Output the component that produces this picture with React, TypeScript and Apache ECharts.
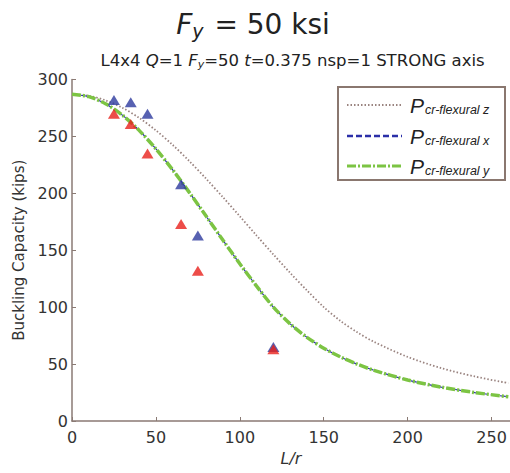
import React, { useEffect, useRef } from "react";
import * as echarts from "echarts";

// Slenderness ratios at which the curves are sampled
const slenderness = [0, 10, 20, 30, 40, 50, 60, 70, 80, 90, 100, 110, 120, 130, 140, 150, 160, 170, 180, 200, 220, 240, 260];
// Flexural buckling capacity about z (kips)
const flexuralZ = [287, 285.7, 281.7, 275.2, 266.3, 255.3, 242.5, 228.2, 212.7, 196.5, 179.8, 162.9, 146.3, 130.1, 114.7, 100.1, 87.9, 77.9, 69.5, 56.3, 46.5, 39.1, 33.3];
// Flexural buckling capacity about x and y (kips) – the two coincide
const flexuralX = [287, 284.9, 278.7, 268.7, 255.3, 239.0, 220.6, 200.6, 179.8, 158.7, 138.1, 118.5, 100.1, 85.3, 73.5, 64.0, 56.3, 49.9, 44.5, 36.0, 29.8, 25.0, 21.3];
const flexuralY = [287, 284.9, 278.7, 268.7, 255.3, 239.0, 220.6, 200.6, 179.8, 158.7, 138.1, 118.5, 100.1, 85.3, 73.5, 64.0, 56.3, 49.9, 44.5, 36.0, 29.8, 25.0, 21.3];

// Test results
const testLr = [25, 35, 45, 65, 75, 120];
const testBlue = [282, 280, 270, 208, 163, 65];
const testRed = [270, 261, 235, 173, 132, 63];

const legendLabels = ["cr-flexural z", "cr-flexural x", "cr-flexural y"];

const FONT = "'DejaVu Sans', Verdana, sans-serif";
const LEGEND_FONT = "'Liberation Sans', Arial, Helvetica, sans-serif";

const pairs = (xs: number[], ys: number[]) => xs.map((x, i) => [x, ys[i]]);

export default function App() {
  const ref = useRef<HTMLDivElement>(null);

  useEffect(() => {
    if (!ref.current) return;
    const chart = echarts.init(ref.current, null, { renderer: "svg" });

    const axisColor = "#8a7a74";
    const legendTop = 87;
    const legendRows = [105, 136, 166];
    const legendStyles = [
      { stroke: "#9a8480", lineWidth: 1.8, lineDash: [1.5, 2] },
      { stroke: "#2b2fa8", lineWidth: 2.5, lineDash: [6, 3] },
      { stroke: "#7cc443", lineWidth: 3, lineDash: [9, 2, 2, 2] },
    ];

    chart.setOption({
      animation: false,
      backgroundColor: "#ffffff",
      textStyle: { fontFamily: FONT },
      grid: { left: 72, right: 0, top: 79.5, bottom: 52, containLabel: false },
      xAxis: {
        type: "value",
        min: 0,
        max: 261,
        interval: 50,
        name: "L/r",
        nameLocation: "middle",
        nameGap: 29,
        nameTextStyle: { fontFamily: FONT, fontSize: 16, fontStyle: "italic", color: "#333" },
        axisLine: { lineStyle: { color: axisColor, width: 1.5 } },
        axisTick: { inside: true, length: 4, lineStyle: { color: axisColor } },
        axisLabel: {
          color: "#333",
          fontSize: 16,
          fontFamily: FONT,
          margin: 8,
          showMaxLabel: false,
          formatter: (v: number) => (v % 50 === 0 ? String(v) : ""),
        },
        splitLine: { show: false },
      },
      yAxis: {
        type: "value",
        min: 0,
        max: 300,
        interval: 50,
        name: "Buckling Capacity (kips)",
        nameLocation: "middle",
        nameRotate: 90,
        nameGap: 46,
        nameTextStyle: { fontFamily: FONT, fontSize: 15, color: "#333" },
        axisLine: { show: true, lineStyle: { color: axisColor, width: 1.5 } },
        axisTick: { show: true, inside: true, length: 4, lineStyle: { color: axisColor } },
        axisLabel: { color: "#333", fontSize: 16, fontFamily: FONT, margin: 4 },
        splitLine: { show: false },
      },
      series: [
        {
          name: "Pcr-flexural z",
          type: "line",
          data: pairs(slenderness, flexuralZ),
          smooth: 0.3,
          symbol: "none",
          lineStyle: { color: "#9a8480", width: 1.8, type: [1.5, 2] },
          z: 2,
        },
        {
          name: "Pcr-flexural x",
          type: "line",
          data: pairs(slenderness, flexuralX),
          smooth: 0.3,
          symbol: "none",
          lineStyle: { color: "#2b2fa8", width: 1.2, type: [6, 3] },
          z: 2,
        },
        {
          name: "Pcr-flexural y",
          type: "line",
          data: pairs(slenderness, flexuralY),
          smooth: 0.3,
          symbol: "none",
          lineStyle: { color: "#7cc443", width: 3.5, type: [9, 2, 2, 2] },
          z: 3,
        },
        {
          name: "Test strong",
          type: "scatter",
          data: pairs(testLr, testBlue),
          symbol: "triangle",
          symbolSize: [12, 10],
          itemStyle: { color: "#2d3a9e" },
          z: 5,
        },
        {
          name: "Test weak",
          type: "scatter",
          data: pairs(testLr, testRed),
          symbol: "triangle",
          symbolSize: [12, 10],
          itemStyle: { color: "#e8211b" },
          z: 5,
        },
      ],
      graphic: [
        {
          type: "text",
          x: 253,
          y: 24,
          style: {
            text: "{f|F}{s|y}{n| = 50 ksi}",
            align: "center",
            verticalAlign: "middle",
            fill: "#222",
            rich: {
              f: { fontFamily: FONT, fontSize: 28, fontStyle: "italic", fill: "#222" },
              s: { fontFamily: FONT, fontSize: 19, fontStyle: "italic", fill: "#222", padding: [14, 2, 0, 0] },
              n: { fontFamily: FONT, fontSize: 28, fill: "#222" },
            },
          },
        },
        {
          type: "text",
          x: 292.5,
          y: 60,
          style: {
            text: "{n|L4x4 }{i|Q}{n|=1 }{i|F}{s|y}{n|=50 }{i|t}{n|=0.375 nsp=1 STRONG axis}",
            align: "center",
            verticalAlign: "middle",
            fill: "#222",
            rich: {
              n: { fontFamily: FONT, fontSize: 16.5, fill: "#222" },
              i: { fontFamily: FONT, fontSize: 16.5, fontStyle: "italic", fill: "#222" },
              s: { fontFamily: FONT, fontSize: 11, fontStyle: "italic", fill: "#222", padding: [8, 0, 0, 0] },
            },
          },
        },
        {
          type: "rect",
          shape: { x: 338, y: legendTop, width: 167, height: 93 },
          style: { fill: "#ffffff", stroke: "#8a776f", lineWidth: 2 },
          z: 10,
        },
        ...legendRows.map((y, i) => ({
          type: "line",
          shape: { x1: 347, y1: y, x2: 402, y2: y },
          style: { ...legendStyles[i], fill: null },
          z: 11,
        })),
        ...legendRows.map((y, i) => ({
          type: "text",
          x: 410,
          y: y,
          style: {
            text: `{p|P}{s|${legendLabels[i]}}`,
            align: "left",
            verticalAlign: "middle",
            fill: "#222",
            rich: {
              p: { fontFamily: LEGEND_FONT, fontSize: 21, fontStyle: "italic", fill: "#222" },
              s: { fontFamily: LEGEND_FONT, fontSize: 12.5, fontStyle: "italic", fill: "#222", padding: [10, 0, 0, 1] },
            },
          },
          z: 11,
        })),
      ],
    });

    return () => chart.dispose();
  }, []);

  return <div ref={ref} style={{ width: 510, height: 473, position: "absolute", left: 0, top: 0 }} />;
}
